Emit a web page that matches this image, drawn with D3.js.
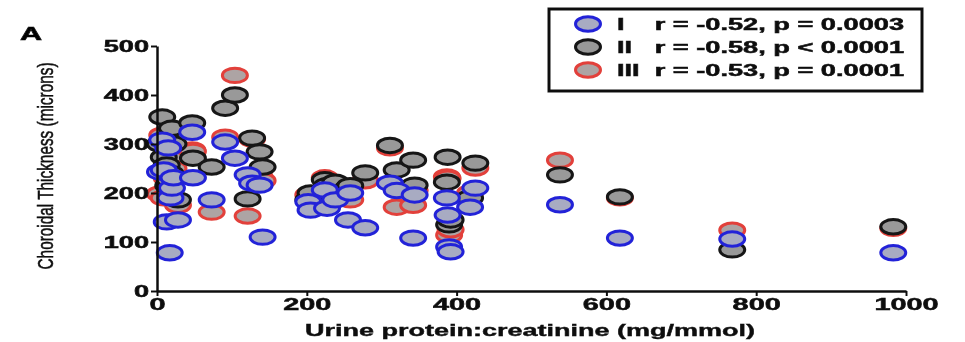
<!DOCTYPE html>
<html>
<head>
<meta charset="utf-8">
<script src="https://cdn.jsdelivr.net/npm/d3@7"></script>
<style>
  body { margin: 0; background: #fff; }
  svg { display: block; font-family: "Liberation Sans", Arial, sans-serif; }
</style>
</head>
<body>
<figure id="chart" style="margin:0"></figure>
<script>
// urine protein:creatinine per patient (mg/mmol)
const upcr = [4, 7, 9, 13, 15, 18, 20, 22, 17, 28, 47, 48, 73, 91, 104, 121, 127, 137, 141,
  202, 205, 224, 227, 238, 255, 258, 278, 311, 320, 342, 344, 387, 388, 390, 392, 418, 425,
  538, 618, 768, 983];
// choroidal thickness (microns) at locations I, II, III
const thickI = [243, 308, 247, 141, 292, 190, 210, 231, 78, 145, 324, 231, 186, 304, 271, 237, 220, 216, 110,
  182, 165, 206, 169, 186, 145, 200, 129, 220, 205, 108, 196, 190, 155, 90, 80, 171, 210,
  176, 108, 106, 78];
const thickII = [300, 355, 273, 257, 215, 240, 332, 300, 226, 186, 343, 271, 253, 373, 400, 188, 312, 284, 253,
  186, 200, 227, 215, 222, 210, 215, 241, 297, 247, 267, 216, 222, 273, 135, 145, 190, 261,
  237, 192, 84, 131];
const thickIII = [198, 318, 190, 230, 300, 205, 270, 250, 215, 175, 288, 285, 161, 314, 440, 153, 310, 233, 225,
  196, 185, 231, 210, 215, 200, 186, 225, 292, 171, 175, 205, 233, 230, 114, 125, 200, 251,
  267, 190, 124, 128];

const seriesNames = ["I", "II", "III"];
const seriesStats = ["r = -0.52, p = 0.0003", "r = -0.58, p < 0.0001", "r = -0.53, p = 0.0001"];
const xTicks = [0, 200, 400, 600, 800, 1000];
const yTicks = [0, 100, 200, 300, 400, 500];

const W = 965, H = 342;
const SX = 1.7; // the figure is stretched sideways, so are its glyphs
const strokes = { I: "#2424d8", II: "#151515", III: "#e2403a" };
const fills = { I: "#a8abc2", II: "#999999", III: "#ada4a4" };

const x = d3.scaleLinear().domain([0, 1000]).range([157, 906]);
const y = d3.scaleLinear().domain([0, 500]).range([291, 46]);

const svg = d3.select("#chart").append("svg")
  .attr("width", W)
  .attr("height", H);

// soft look of the scanned figure
svg.append("defs").append("filter")
  .attr("id", "soft")
  .append("feGaussianBlur")
  .attr("stdDeviation", 0.6);

const root = svg.append("g").attr("filter", "url(#soft)");

// panel letter
root.append("text")
  .attr("transform", "translate(20,40) scale(" + SX + ",1)")
  .attr("font-size", 18)
  .attr("font-weight", "bold")
  .attr("stroke", "#111")
  .attr("stroke-width", 0.6)
  .text("A");

// points: red first, then black, then blue on top
const series = [
  { key: "III", vals: thickIII },
  { key: "II", vals: thickII },
  { key: "I", vals: thickI }
];
series.forEach(s => {
  root.append("g").selectAll("ellipse")
    .data(upcr.map((u, i) => ({ u: u, t: s.vals[i] })))
    .enter()
    .append("ellipse")
    .attr("cx", d => x(d.u))
    .attr("cy", d => y(d.t))
    .attr("rx", 12.5)
    .attr("ry", 7.2)
    .attr("fill", fills[s.key])
    .attr("stroke", strokes[s.key])
    .attr("stroke-width", 3);
});

// y axis
const gy = root.append("g")
  .attr("transform", "translate(157,0)")
  .call(d3.axisLeft(y).tickValues(yTicks).tickSize(6).tickSizeOuter(0).tickFormat(d3.format("d")));
gy.select(".domain").attr("stroke", "#111").attr("stroke-width", 2.5);
gy.selectAll(".tick line").attr("stroke", "#111").attr("stroke-width", 2);
gy.selectAll(".tick text")
  .attr("x", -8 / SX)
  .attr("transform", "scale(" + SX + ",1)")
  .attr("font-size", 16)
  .attr("font-weight", "bold")
  .attr("fill", "#111")
  .attr("stroke", "#111")
  .attr("stroke-width", 0.5)
  .attr("font-family", "Liberation Sans, Arial, sans-serif");

// x axis
const gx = root.append("g")
  .attr("transform", "translate(0,291)")
  .call(d3.axisBottom(x).tickValues(xTicks).tickSize(5).tickSizeOuter(0).tickFormat(d3.format("d")));
gx.select(".domain").attr("stroke", "#111").attr("stroke-width", 2.5);
gx.selectAll(".tick line").attr("stroke", "#111").attr("stroke-width", 2);
gx.selectAll(".tick text")
  .attr("y", 7)
  .attr("transform", "scale(" + SX + ",1)")
  .attr("font-size", 17)
  .attr("font-weight", "bold")
  .attr("fill", "#111")
  .attr("stroke", "#111")
  .attr("stroke-width", 0.5)
  .attr("font-family", "Liberation Sans, Arial, sans-serif");

// axis titles
root.append("text")
  .attr("x", 530)
  .attr("y", 336)
  .attr("text-anchor", "middle")
  .attr("font-size", 16)
  .attr("font-weight", "bold")
  .attr("fill", "#111")
  .attr("stroke", "#111")
  .attr("stroke-width", 0.4)
  .attr("textLength", 450)
  .attr("lengthAdjust", "spacingAndGlyphs")
  .text("Urine protein:creatinine (mg/mmol)");

root.append("text")
  .attr("transform", "translate(53,166) rotate(-90) scale(1,1.8)")
  .attr("text-anchor", "middle")
  .attr("font-size", 12.5)
  .attr("fill", "#111")
  .attr("stroke", "#111")
  .attr("stroke-width", 0.3)
  .attr("textLength", 207)
  .attr("lengthAdjust", "spacingAndGlyphs")
  .text("Choroidal Thickness (microns)");

// legend
root.append("rect")
  .attr("x", 549)
  .attr("y", 9)
  .attr("width", 373)
  .attr("height", 82)
  .attr("fill", "#fff")
  .attr("stroke", "#111")
  .attr("stroke-width", 3);

const legRow = d3.scalePoint().domain(seriesNames).range([24, 70]);
const leg = root.append("g").selectAll("g")
  .data(seriesNames)
  .enter()
  .append("g")
  .attr("transform", d => "translate(0," + legRow(d) + ")");
leg.append("ellipse")
  .attr("cx", 588)
  .attr("cy", 0)
  .attr("rx", 12.5)
  .attr("ry", 7.2)
  .attr("fill", d => fills[d])
  .attr("stroke", d => strokes[d])
  .attr("stroke-width", 3);
leg.append("text")
  .attr("transform", "translate(617,6) scale(" + SX + ",1)")
  .attr("font-size", 16)
  .attr("font-weight", "bold")
  .attr("fill", "#111")
  .attr("stroke", "#111")
  .attr("stroke-width", 0.5)
  .text(d => d);
leg.append("text")
  .attr("transform", "translate(904,6) scale(" + SX + ",1)")
  .attr("text-anchor", "end")
  .attr("font-size", 16)
  .attr("font-weight", "bold")
  .attr("fill", "#111")
  .attr("stroke", "#111")
  .attr("stroke-width", 0.5)
  .text((d, i) => seriesStats[i]);
</script>
</body>
</html>
